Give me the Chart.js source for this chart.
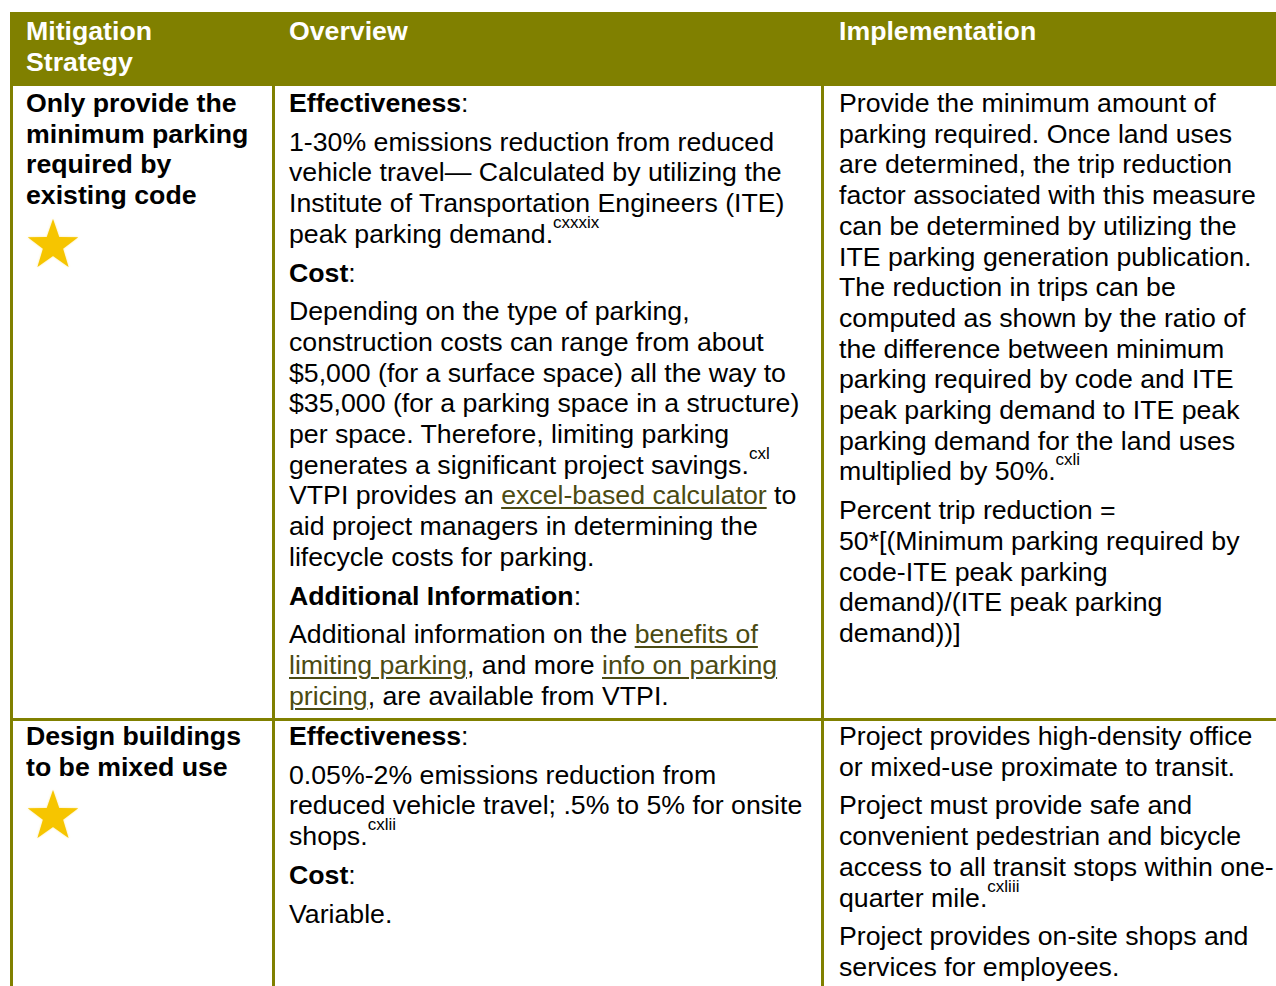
<!DOCTYPE html>
<html><head><meta charset="utf-8">
<script src="https://cdn.jsdelivr.net/npm/chart.js@4.4.1/dist/chart.umd.min.js"></script>
<style>
html,body{margin:0;padding:0;background:#fff;width:1276px;height:986px;overflow:hidden;}
body{position:relative;font-family:"Liberation Sans",Arial,sans-serif;font-size:26.7px;line-height:30.7px;color:#000;}
.hdr{position:absolute;left:10px;top:12px;width:1266px;height:74px;background:#808000;}
.vl{position:absolute;top:86px;height:900px;width:3px;background:#808000;}
.hl{position:absolute;left:10px;width:1266px;height:3px;background:#808000;}
.cell{position:absolute;white-space:nowrap;}
.cell p{margin:0 0 8px 0;}
.h{color:#fff;font-weight:bold;}
.s{font-weight:bold;}
a{color:#4b4b12;text-decoration:underline;text-underline-offset:3px;text-decoration-thickness:2px;}
sup{font-size:17px;line-height:0;vertical-align:14.6px;}
canvas.star{position:absolute;}
</style></head>
<body>
<div class="hdr"></div>
<div class="vl" style="left:10px"></div>
<div class="vl" style="left:272px"></div>
<div class="vl" style="left:821px"></div>
<div class="hl" style="top:718px"></div>
<div id="root"></div>
<script>
// ---- data ----
const headers = ["Mitigation<br>Strategy", "Overview", "Implementation"];
const strategies = [
  "Only provide the<br>minimum parking<br>required by<br>existing code",
  "Design buildings<br>to be mixed use"
];
const starRatings = [1, 1];
const overviews = [
  [
    "<b>Effectiveness</b>:",
    "1-30% emissions reduction from reduced<br>vehicle travel\u2014 Calculated by utilizing the<br>Institute of Transportation Engineers (ITE)<br>peak parking demand.<sup>cxxxix</sup>",
    "<b>Cost</b>:",
    "Depending on the type of parking,<br>construction costs can range from about<br>$5,000 (for a surface space) all the way to<br>$35,000 (for a parking space in a structure)<br>per space. Therefore, limiting parking<br>generates a significant project savings.<sup>cxl</sup><br>VTPI provides an <a>excel-based calculator</a> to<br>aid project managers in determining the<br>lifecycle costs for parking.",
    "<b>Additional Information</b>:",
    "Additional information on the <a>benefits of</a><br><a>limiting parking</a>, and more <a>info on parking</a><br><a>pricing</a>, are available from VTPI."
  ],
  [
    "<b>Effectiveness</b>:",
    "0.05%-2% emissions reduction from<br>reduced vehicle travel; .5% to 5% for onsite<br>shops.<sup>cxlii</sup>",
    "<b>Cost</b>:",
    "Variable."
  ]
];
const implementations = [
  [
    "Provide the minimum amount of<br>parking required. Once land uses<br>are determined, the trip reduction<br>factor associated with this measure<br>can be determined by utilizing the<br>ITE parking generation publication.<br>The reduction in trips can be<br>computed as shown by the ratio of<br>the difference between minimum<br>parking required by code and ITE<br>peak parking demand to ITE peak<br>parking demand for the land uses<br>multiplied by 50%.<sup>cxli</sup>",
    "Percent trip reduction =<br>50*[(Minimum parking required by<br>code-ITE peak parking<br>demand)/(ITE peak parking<br>demand))]"
  ],
  [
    "Project provides high-density office<br>or mixed-use proximate to transit.",
    "Project must provide safe and<br>convenient pedestrian and bicycle<br>access to all transit stops within one-<br>quarter mile.<sup>cxliii</sup>",
    "Project provides on-site shops and<br>services for employees."
  ]
];

// ---- layout ----
const colX = [26, 289, 839];
const rowTop = [88, 721];
const root = document.getElementById('root');
function addCell(x, y, html, cls) {
  const d = document.createElement('div');
  d.className = 'cell' + (cls ? ' ' + cls : '');
  d.style.left = x + 'px'; d.style.top = y + 'px';
  d.innerHTML = html;
  root.appendChild(d);
  return d;
}
headers.forEach((h, i) => addCell(colX[i], 16, h, 'h'));
overviews.forEach((ps, r) => addCell(colX[1], rowTop[r], ps.map(p => '<p>' + p + '</p>').join('')));
implementations.forEach((ps, r) => addCell(colX[2], rowTop[r], ps.map(p => '<p>' + p + '</p>').join('')));

// filled star drawn at each point the library places
const filledStar = {
  id: 'filledStar',
  afterDatasetsDraw(chart) {
    const g = chart.ctx;
    chart.data.datasets.forEach((ds, i) => {
      chart.getDatasetMeta(i).data.forEach(pt => {
        const cx = pt.x, cy = pt.y + 1.5, R = 26.5, r = R * 0.40;
        g.save();
        g.beginPath();
        for (let k = 0; k < 10; k++) {
          const rad = k % 2 === 0 ? R : r;
          const a = -Math.PI / 2 + k * Math.PI / 5;
          const px = cx + rad * Math.cos(a), py = cy + rad * Math.sin(a);
          k === 0 ? g.moveTo(px, py) : g.lineTo(px, py);
        }
        g.closePath();
        g.shadowColor = 'rgba(250,215,80,0.7)';
        g.shadowBlur = 2;
        g.fillStyle = '#f6c500';
        g.fill();
        g.restore();
      });
    });
  }
};

function drawStars(cv, rating) {
  const pts = [];
  for (let k = 1; k <= rating; k++) pts.push({x: k, y: 1});
  new Chart(cv, {
    type: 'scatter',
    data: {datasets: [{data: pts, pointRadius: 0, pointHoverRadius: 0}]},
    options: {
      responsive: false, animation: false, events: [],
      layout: {padding: 0},
      plugins: {legend: {display: false}, tooltip: {enabled: false}},
      scales: {
        x: {display: false, min: 0.5, max: rating + 0.5},
        y: {display: false, min: 0, max: 2}
      }
    },
    plugins: [filledStar]
  });
}

strategies.forEach((s, r) => {
  const c = addCell(colX[0], rowTop[r], '<p>' + s + '</p>', 's');
  const cv = document.createElement('canvas');
  cv.className = 'star'; cv.width = 64; cv.height = 64;
  cv.style.width = '64px'; cv.style.height = '64px';
  cv.style.left = '21px';
  cv.style.top = (rowTop[r] + c.offsetHeight - 7) + 'px';
  root.appendChild(cv);
  drawStars(cv, starRatings[r]);
});
</script>
</body></html>
